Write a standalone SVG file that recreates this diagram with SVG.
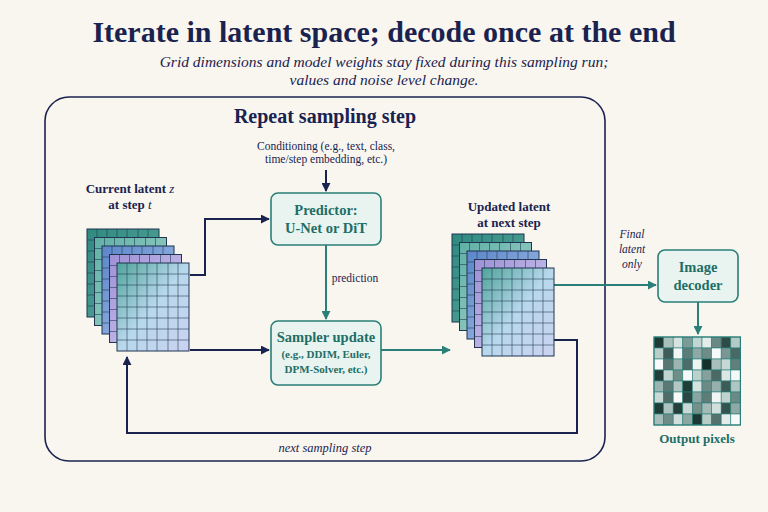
<svg xmlns="http://www.w3.org/2000/svg" xmlns:xlink="http://www.w3.org/1999/xlink" width="768" height="512" viewBox="0 0 768 512">
<style>
.t{font-family:"Liberation Serif",serif;fill:#1a2350}
.k{fill:#1d6e66;font-weight:bold}
.bx{fill:#e9f4f1;stroke:#2a7f78;stroke-width:1.6}
.nv{stroke:#1a2350;stroke-width:2;fill:none}
.tl{stroke:#2a7f78;stroke-width:2;fill:none}
.gl{stroke:#1f3550;stroke-width:0.7;fill:none;opacity:0.8}
.lf{stroke:#1f3550;stroke-width:1}
</style>
<defs>
<marker id="an" viewBox="0 0 10 10" refX="9" refY="5" markerWidth="4.5" markerHeight="4.5" orient="auto"><path d="M0,0L10,5L0,10z" fill="#1a2350"/></marker>
<marker id="at" viewBox="0 0 10 10" refX="9" refY="5" markerWidth="4.5" markerHeight="4.5" orient="auto"><path d="M0,0L10,5L0,10z" fill="#2a7f78"/></marker>
<linearGradient id="g1" x1="0" y1="0" x2="1" y2="1"><stop offset="0" stop-color="#2f8a80"/><stop offset="1" stop-color="#5aa79c"/></linearGradient>
<linearGradient id="g2" x1="0" y1="0" x2="1" y2="1"><stop offset="0" stop-color="#5fb0a6"/><stop offset="1" stop-color="#a8d4cc"/></linearGradient>
<linearGradient id="g3" x1="0" y1="0" x2="1" y2="1"><stop offset="0" stop-color="#5b86c9"/><stop offset="1" stop-color="#a9c3ea"/></linearGradient>
<linearGradient id="g4" x1="0" y1="0" x2="1" y2="1"><stop offset="0" stop-color="#9d8fd6"/><stop offset="1" stop-color="#d6d0f0"/></linearGradient>
<linearGradient id="g5" x1="0" y1="0" x2="1" y2="1"><stop offset="0" stop-color="#4fa39a"/><stop offset="0.5" stop-color="#b8d8ec"/><stop offset="1" stop-color="#cbd2f0"/></linearGradient>
<g id="grid">
<path class="gl" d="M10,0V88M20,0V88M30,0V88M40,0V88M51,0V88M61,0V88M0,11H72M0,22H72M0,33H72M0,44H72M0,55H72M0,66H72M0,77H72"/>
<rect width="72" height="88" fill="none" class="lf"/>
</g>
<g id="stack">
<rect x="0" y="0" width="72" height="88" fill="url(#g1)"/><use xlink:href="#grid"/>
<rect x="7.5" y="8.5" width="72" height="88" fill="url(#g2)"/><use xlink:href="#grid" x="7.5" y="8.5"/>
<rect x="15" y="17" width="72" height="88" fill="url(#g3)"/><use xlink:href="#grid" x="15" y="17"/>
<rect x="22.5" y="25.5" width="72" height="88" fill="url(#g4)"/><use xlink:href="#grid" x="22.5" y="25.5"/>
<rect x="30" y="34" width="72" height="88" fill="url(#g5)"/><use xlink:href="#grid" x="30" y="34"/>
</g>
</defs>
<rect width="768" height="512" fill="#f9f6ef"/>
<text class="t" x="384" y="42" text-anchor="middle" font-size="30" font-weight="bold">Iterate in latent space; decode once at the end</text>
<text class="t" x="384" y="67" text-anchor="middle" font-size="15.5" font-style="italic">Grid dimensions and model weights stay fixed during this sampling run;</text>
<text class="t" x="384" y="85" text-anchor="middle" font-size="15.5" font-style="italic">values and noise level change.</text>
<rect x="45" y="97" width="560" height="364" rx="24" fill="none" stroke="#1a2350" stroke-width="1.6"/>
<text class="t" x="325" y="123" text-anchor="middle" font-size="20" font-weight="bold">Repeat sampling step</text>
<g id="connectors">
<path class="nv" d="M326,170V191" marker-end="url(#an)"/>
<path class="nv" d="M190,275H205V219H269" marker-end="url(#an)"/>
<path class="tl" d="M326,245V319" marker-end="url(#at)"/>
<path class="nv" d="M190,350H269" marker-end="url(#an)"/>
<path class="tl" d="M381,350H450" marker-end="url(#at)"/>
<path class="tl" d="M552,285H656" marker-end="url(#at)"/>
<path class="nv" d="M552,340H577V433H127V357" marker-end="url(#an)"/>
<path class="tl" d="M698,302V334" marker-end="url(#at)"/>
</g>
<text class="t" x="326" y="150" text-anchor="middle" font-size="11.5">Conditioning (e.g., text, class,</text>
<text class="t" x="326" y="163" text-anchor="middle" font-size="11.5">time/step embedding, etc.)</text>
<text class="t" x="355" y="282" text-anchor="middle" font-size="11.5">prediction</text>
<text class="t" x="325" y="452" text-anchor="middle" font-size="12.5" font-style="italic">next sampling step</text>
<text class="t" x="632" y="238" text-anchor="middle" font-size="11.5" font-style="italic">Final</text>
<text class="t" x="632" y="253" text-anchor="middle" font-size="11.5" font-style="italic">latent</text>
<text class="t" x="632" y="268" text-anchor="middle" font-size="11.5" font-style="italic">only</text>
<g id="current-latent">
<text class="t" x="130" y="193" text-anchor="middle" font-size="13" font-weight="bold">Current latent <tspan font-style="italic" font-weight="normal">z</tspan></text>
<text class="t" x="130" y="209" text-anchor="middle" font-size="13" font-weight="bold">at step <tspan font-style="italic" font-weight="normal">t</tspan></text>
<use xlink:href="#stack" x="87" y="229"/>
</g>
<g id="updated-latent">
<text class="t" x="509" y="211" text-anchor="middle" font-size="13" font-weight="bold">Updated latent</text>
<text class="t" x="509" y="227" text-anchor="middle" font-size="13" font-weight="bold">at next step</text>
<use xlink:href="#stack" x="452" y="234"/>
</g>
<g id="predictor">
<rect class="bx" x="271" y="193" width="110" height="52" rx="7"/>
<text class="t k" x="326" y="215" text-anchor="middle" font-size="14.5">Predictor:</text>
<text class="t k" x="326" y="233" text-anchor="middle" font-size="14.5">U-Net or DiT</text>
</g>
<g id="sampler">
<rect class="bx" x="271" y="321" width="110" height="64" rx="7"/>
<text class="t k" x="326" y="342" text-anchor="middle" font-size="14.5">Sampler update</text>
<text class="t k" x="326" y="358" text-anchor="middle" font-size="11">(e.g., DDIM, Euler,</text>
<text class="t k" x="326" y="373" text-anchor="middle" font-size="11">DPM-Solver, etc.)</text>
</g>
<g id="decoder">
<rect class="bx" x="658" y="250" width="80" height="52" rx="7"/>
<text class="t k" x="698" y="272" text-anchor="middle" font-size="14.5">Image</text>
<text class="t k" x="698" y="290" text-anchor="middle" font-size="14.5">decoder</text>
</g>
<g id="output-pixels">
<g stroke="#2a7f78" stroke-width="0.6">
<rect x="654" y="337" width="9.6" height="11" fill="#1e3a36"/><rect x="663.6" y="337" width="9.6" height="11" fill="#a9bfbb"/><rect x="673.2" y="337" width="9.6" height="11" fill="#d7e3e0"/><rect x="682.8" y="337" width="9.6" height="11" fill="#7e9a96"/><rect x="692.4" y="337" width="9.6" height="11" fill="#c4d6d2"/><rect x="702" y="337" width="9.6" height="11" fill="#e2ecea"/><rect x="711.6" y="337" width="9.6" height="11" fill="#6a8884"/><rect x="721.2" y="337" width="9.6" height="11" fill="#2f4b47"/><rect x="730.8" y="337" width="9.6" height="11" fill="#b5c9c5"/>
<rect x="654" y="348" width="9.6" height="11" fill="#b9cdc9"/><rect x="663.6" y="348" width="9.6" height="11" fill="#3e5c58"/><rect x="673.2" y="348" width="9.6" height="11" fill="#f3f7f6"/><rect x="682.8" y="348" width="9.6" height="11" fill="#5d7c78"/><rect x="692.4" y="348" width="9.6" height="11" fill="#8ea9a5"/><rect x="702" y="348" width="9.6" height="11" fill="#6e8c88"/><rect x="711.6" y="348" width="9.6" height="11" fill="#f7faf9"/><rect x="721.2" y="348" width="9.6" height="11" fill="#7b9793"/><rect x="730.8" y="348" width="9.6" height="11" fill="#4a6864"/>
<rect x="654" y="359" width="9.6" height="11" fill="#f8fbfa"/><rect x="663.6" y="359" width="9.6" height="11" fill="#587672"/><rect x="673.2" y="359" width="9.6" height="11" fill="#9db5b1"/><rect x="682.8" y="359" width="9.6" height="11" fill="#4d6b67"/><rect x="692.4" y="359" width="9.6" height="11" fill="#eef4f3"/><rect x="702" y="359" width="9.6" height="11" fill="#15302c"/><rect x="711.6" y="359" width="9.6" height="11" fill="#a8bfbb"/><rect x="721.2" y="359" width="9.6" height="11" fill="#c7d8d4"/><rect x="730.8" y="359" width="9.6" height="11" fill="#627f7b"/>
<rect x="654" y="370" width="9.6" height="11" fill="#223f3b"/><rect x="663.6" y="370" width="9.6" height="11" fill="#c2d4d0"/><rect x="673.2" y="370" width="9.6" height="11" fill="#6f8d89"/><rect x="682.8" y="370" width="9.6" height="11" fill="#f5f9f8"/><rect x="692.4" y="370" width="9.6" height="11" fill="#bcd0cc"/><rect x="702" y="370" width="9.6" height="11" fill="#86a19d"/><rect x="711.6" y="370" width="9.6" height="11" fill="#4b6965"/><rect x="721.2" y="370" width="9.6" height="11" fill="#dbe6e4"/><rect x="730.8" y="370" width="9.6" height="11" fill="#f4f8f7"/>
<rect x="654" y="381" width="9.6" height="11" fill="#9cb4b0"/><rect x="663.6" y="381" width="9.6" height="11" fill="#5a7874"/><rect x="673.2" y="381" width="9.6" height="11" fill="#b3c8c4"/><rect x="682.8" y="381" width="9.6" height="11" fill="#203d39"/><rect x="692.4" y="381" width="9.6" height="11" fill="#d6e2e0"/><rect x="702" y="381" width="9.6" height="11" fill="#6c8a86"/><rect x="711.6" y="381" width="9.6" height="11" fill="#98b0ac"/><rect x="721.2" y="381" width="9.6" height="11" fill="#3d5b57"/><rect x="730.8" y="381" width="9.6" height="11" fill="#b0c6c2"/>
<rect x="654" y="392" width="9.6" height="11" fill="#c9d9d6"/><rect x="663.6" y="392" width="9.6" height="11" fill="#4e6c68"/><rect x="673.2" y="392" width="9.6" height="11" fill="#f6f9f8"/><rect x="682.8" y="392" width="9.6" height="11" fill="#2a4743"/><rect x="692.4" y="392" width="9.6" height="11" fill="#8aa5a1"/><rect x="702" y="392" width="9.6" height="11" fill="#5e7c78"/><rect x="711.6" y="392" width="9.6" height="11" fill="#f1f6f5"/><rect x="721.2" y="392" width="9.6" height="11" fill="#c0d3cf"/><rect x="730.8" y="392" width="9.6" height="11" fill="#6b8985"/>
<rect x="654" y="403" width="9.6" height="11" fill="#1f3c38"/><rect x="663.6" y="403" width="9.6" height="11" fill="#adc3bf"/><rect x="673.2" y="403" width="9.6" height="11" fill="#263f3c"/><rect x="682.8" y="403" width="9.6" height="11" fill="#c8d8d5"/><rect x="692.4" y="403" width="9.6" height="11" fill="#758f8b"/><rect x="702" y="403" width="9.6" height="11" fill="#a3bab6"/><rect x="711.6" y="403" width="9.6" height="11" fill="#d2e0dd"/><rect x="721.2" y="403" width="9.6" height="11" fill="#34524e"/><rect x="730.8" y="403" width="9.6" height="11" fill="#8fa9a5"/>
<rect x="654" y="414" width="9.6" height="11" fill="#a6bdb9"/><rect x="663.6" y="414" width="9.6" height="11" fill="#6d8b87"/><rect x="673.2" y="414" width="9.6" height="11" fill="#d1dfdc"/><rect x="682.8" y="414" width="9.6" height="11" fill="#8ca6a2"/><rect x="692.4" y="414" width="9.6" height="11" fill="#1d3834"/><rect x="702" y="414" width="9.6" height="11" fill="#b7cbc7"/><rect x="711.6" y="414" width="9.6" height="11" fill="#53716d"/><rect x="721.2" y="414" width="9.6" height="11" fill="#e3ecea"/><rect x="730.8" y="414" width="9.6" height="11" fill="#f7faf9"/>
</g>
<rect x="654" y="337" width="86.4" height="88" fill="none" stroke="#2a7f78" stroke-width="1.2"/>
<text class="t k" x="697" y="443" text-anchor="middle" font-size="13">Output pixels</text>
</g>
</svg>
